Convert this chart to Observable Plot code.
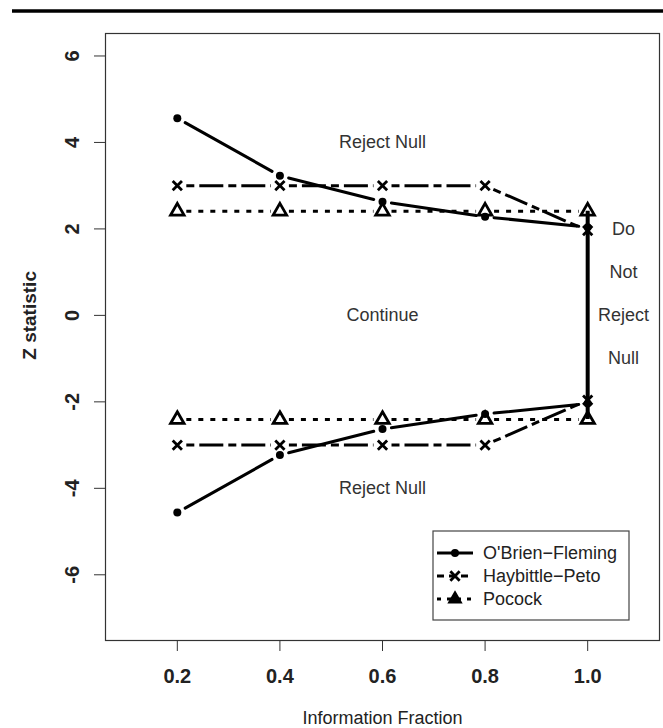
<!DOCTYPE html>
<html><head><meta charset="utf-8">
<script src="https://cdn.jsdelivr.net/npm/d3@7"></script>
<script src="https://cdn.jsdelivr.net/npm/@observablehq/plot@0.6"></script>
<style>
body{margin:0;background:#fff;}
#chart{width:663px;height:728px;position:relative;}
svg{font-family:"Liberation Sans",Arial,Helvetica,sans-serif;}
</style></head><body><div id="chart"></div>
<script>
// ---- data ----
const fractions = [0.2, 0.4, 0.6, 0.8, 1.0];
const obfUpper = [4.56, 3.23, 2.63, 2.28, 2.04];
const obfLower = [-4.56, -3.23, -2.63, -2.28, -2.04];
const hpUpper = [3, 3, 3, 3, 1.96];
const hpLower = [-3, -3, -3, -3, -1.96];
const pocockUpper = [2.41, 2.41, 2.41, 2.41, 2.41];
const pocockLower = [-2.41, -2.41, -2.41, -2.41, -2.41];
const xTicks = [0.2, 0.4, 0.6, 0.8, 1.0];
const yTicks = [-6, -4, -2, 0, 2, 4, 6];
const seriesNames = ["O'Brien\u2212Fleming", "Haybittle\u2212Peto", "Pocock"];
const regionText = ["Reject Null", "Continue", "Reject Null", "Do", "Not", "Reject", "Null"];
const regionX = [0.6, 0.6, 0.6, 1.07, 1.07, 1.07, 1.07];
const regionY = [4, 0, -4, 2, 1, 0, -1];

// ---- tables ----
const seriesBounds = [
  {name: seriesNames[0], bounds: [obfUpper, obfLower]},
  {name: seriesNames[1], bounds: [hpUpper, hpLower]},
  {name: seriesNames[2], bounds: [pocockUpper, pocockLower]}
];
const points = [], segments = [];
for (const s of seriesBounds) {
  for (const b of s.bounds) {
    const pts = fractions.map((x, i) => ({series: s.name, x, y: b[i]}));
    points.push(...pts);
    d3.pairs(pts).forEach(([a, c]) => segments.push({series: s.name, x1: a.x, y1: a.y, x2: c.x, y2: c.y}));
  }
}
const regions = regionText.map((t, i) => ({text: t, x: regionX[i], y: regionY[i]}));

const style = {
  [seriesNames[0]]: {dash: null, cap: "round", symbol: "circle", r: 4, fill: "black", stroke: "none", sw: 0},
  [seriesNames[1]]: {dash: "8,5,24,5", cap: "butt", symbol: "times", r: 4.3, fill: "none", stroke: "black", sw: 2.8},
  [seriesNames[2]]: {dash: "5,7", cap: "butt", symbol: "triangle", r: 5, fill: "none", stroke: "black", sw: 2.8}
};

const marks = [Plot.frame({stroke: "#333", strokeWidth: 1.2})];
for (const name of seriesNames) {
  const st = style[name];
  marks.push(Plot.arrow(segments.filter(d => d.series === name), {
    x1: "x1", y1: "y1", x2: "x2", y2: "y2", headLength: 0, inset: 9,
    stroke: "black", strokeWidth: 3, strokeDasharray: st.dash, strokeLinecap: st.cap
  }));
}
// vertical boundary at final look
marks.push(Plot.ruleX([fractions[4]], {y1: pocockLower[4], y2: pocockUpper[4], stroke: "black", strokeWidth: 4}));
for (const name of seriesNames) {
  const st = style[name];
  marks.push(Plot.dot(points.filter(d => d.series === name), {
    x: "x", y: "y", symbol: st.symbol, r: st.r, fill: st.fill, stroke: st.stroke, strokeWidth: st.sw
  }));
}
marks.push(
  Plot.axisX(xTicks, {tickSize: 11, tickPadding: 17, fontSize: 20, fontWeight: "bold", tickFormat: d3.format(".1f"), label: null, stroke: "#333"}),
  Plot.axisY(yTicks, {tickSize: 11, fill: "none", label: null, stroke: "#333"}),
  Plot.text(yTicks, {y: d => d, text: d => String(d), frameAnchor: "left", dx: -33, rotate: -90, fontSize: 20, fontWeight: "bold", textAnchor: "middle", lineAnchor: "middle", fill: "#222"}),
  Plot.text(["Z statistic"], {y: [0], text: d => d, frameAnchor: "left", dx: -76, rotate: -90, fontSize: 19, fontWeight: "bold", lineAnchor: "middle", textAnchor: "middle", fill: "#222"}),
  Plot.text(["Information Fraction"], {text: d => d, frameAnchor: "bottom", dy: 78, fontSize: 18, lineAnchor: "middle", fill: "#222"}),
  Plot.text(regions, {x: "x", y: "y", text: "text", fontSize: 18, fill: "#333", lineAnchor: "middle"})
);

const chart = Plot.plot({
  width: 663, height: 728,
  marginLeft: 105, marginRight: 4, marginTop: 33, marginBottom: 88,
  x: {domain: [0.06, 1.14]},
  y: {domain: [-7.52, 6.52]},
  style: {fontFamily: "'Liberation Sans', Arial, Helvetica, sans-serif", color: "#222", background: "white"},
  marks
});
document.getElementById("chart").appendChild(chart);

// ---- decorations: top rule and legend ----
const svg = d3.select(chart);
svg.append("line").attr("x1", 12).attr("x2", 663).attr("y1", 11).attr("y2", 11)
  .attr("stroke", "black").attr("stroke-width", 3.5);

const lg = svg.append("g").attr("transform", "translate(433,531)").attr("text-anchor", "start");
lg.append("rect").attr("width", 196).attr("height", 89).attr("fill", "white").attr("stroke", "#444").attr("stroke-width", 1.2);
const sym = {circle: d3.symbolCircle, times: d3.symbolTimes, triangle: d3.symbolTriangle2};
seriesNames.forEach((name, i) => {
  const st = style[name];
  const cy = 22 + i * 23;
  const row = lg.append("g").attr("transform", `translate(0,${cy})`);
  row.append("line").attr("x1", 4).attr("x2", 40).attr("y1", 0).attr("y2", 0)
    .attr("stroke", "black").attr("stroke-width", 3)
    .attr("stroke-dasharray", i === 0 ? null : (i === 1 ? "7,5" : "4,6"))
    .attr("stroke-dashoffset", 0);
  row.append("path").attr("transform", "translate(22,0)")
    .attr("d", d3.symbol(sym[st.symbol], st.r * st.r * Math.PI)())
    .attr("fill", st.fill === "none" ? "black" : st.fill).attr("stroke", st.stroke).attr("stroke-width", st.sw || 0);
  row.append("text").attr("x", 50).attr("y", 0).attr("dy", "0.35em")
    .attr("font-size", 18).attr("fill", "#222").attr("text-anchor", "start").text(name);
});
</script>
</body></html>
